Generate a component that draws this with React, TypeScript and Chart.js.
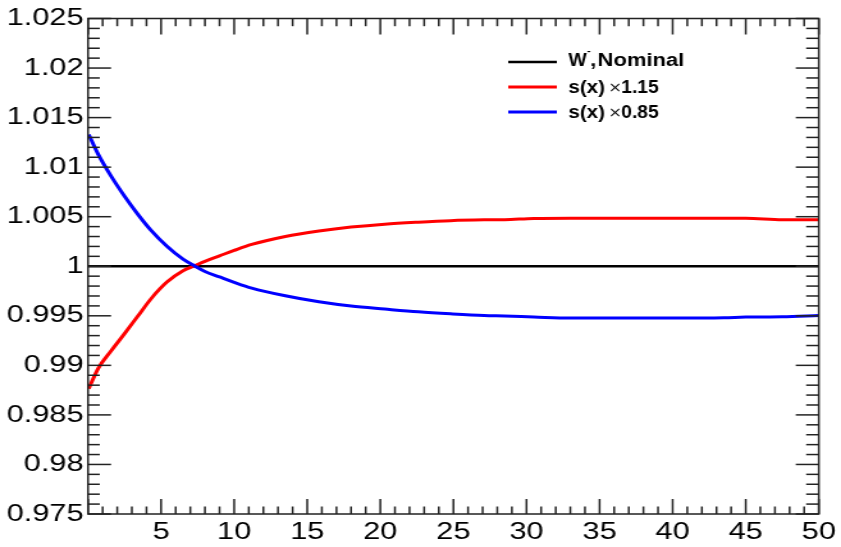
import React, { useEffect, useRef } from "react";
import { Chart, registerables } from "chart.js";

Chart.register(...registerables);

// ---- data ----
const xValues = [0.05, 0.7, 1.6, 2.5, 3.4, 4.3, 5.4, 6.5, 7.3, 8, 9, 10, 11.2, 13.5, 15.8, 18, 20.3, 22.6, 24.8, 27.1, 28.5, 30.5, 33, 36, 40, 43.5, 45, 47.5, 50];
const upValues = [0.98765, 0.9897, 0.9915, 0.9932, 0.99495, 0.9967, 0.9984, 0.99955, 1.00005, 1.0005, 1.00105, 1.0016, 1.0022, 1.003, 1.00355, 1.00395, 1.00425, 1.00445, 1.0046, 1.00468, 1.0047, 1.00482, 1.00485, 1.00485, 1.00485, 1.00485, 1.00485, 1.0047, 1.0047];
const downValues = [1.0133, 1.01129, 1.00904, 1.00706, 1.00526, 1.00364, 1.00201, 1.00071, 1.00002, 0.99947, 0.99892, 0.99838, 0.9978, 0.99702, 0.99641, 0.99598, 0.99568, 0.9954, 0.9952, 0.99503, 0.99498, 0.99488, 0.99477, 0.99477, 0.99477, 0.9948, 0.99487, 0.9949, 0.99502];
const nominalX = [0, 50];
const nominalY = [1, 1];

const xTicks = [0, 5, 10, 15, 20, 25, 30, 35, 40, 45, 50];
const yTicks = [0.975, 0.98, 0.985, 0.99, 0.995, 1, 1.005, 1.01, 1.015, 1.02, 1.025];

const legendLabels = ["Nominal", "s(x)", "s(x)"];
const legendFactors = ["", "1.15", "0.85"];
const seriesColors = ["#000000", "#ff0000", "#0000ff"];

// horizontal stretch to mimic the reference rendering
const STRETCH = 1.28;
const OUT_W = 841;
const OUT_H = 547;
const IN_W = Math.round(OUT_W / STRETCH);

const toPts = (xs: number[], ys: number[]) => xs.map((x, i) => ({ x, y: ys[i] }));

const rootStyle = {
  id: "rootStyle",
  afterDraw(chart: any) {
    const { ctx, chartArea: a, scales } = chart;
    const xs = scales.x;
    const ys = scales.y;
    ctx.save();
    ctx.strokeStyle = "#222";
    ctx.lineWidth = 1.5;
    const line = (x1: number, y1: number, x2: number, y2: number) => {
      ctx.beginPath();
      ctx.moveTo(x1, y1);
      ctx.lineTo(x2, y2);
      ctx.stroke();
    };
    ctx.strokeRect(a.left, a.top, a.right - a.left, a.bottom - a.top);
    const xMin = xTicks[0];
    const xMax = xTicks[xTicks.length - 1];
    for (let v = xMin; v <= xMax; v += 1) {
      const px = xs.getPixelForValue(v);
      const major = v % 5 === 0;
      line(px, a.bottom, px, a.bottom - (major ? 15 : 7.5));
      line(px, a.top, px, a.top + (major ? 16 : 7.7));
    }
    const n = Math.round((yTicks[yTicks.length - 1] - yTicks[0]) / 0.001);
    for (let i = 0; i <= n; i++) {
      const v = yTicks[0] + i * 0.001;
      const py = ys.getPixelForValue(v);
      const major = i % 5 === 0;
      line(a.left, py, a.left + (major ? 18 : 9.2), py);
      line(a.right, py, a.right - (major ? 18 : 9.9), py);
    }
    ctx.restore();

    // legend
    ctx.save();
    const rows = [62, 87, 112];
    const lx1 = 397;
    const lx2 = 435;
    const tx = 444;
    const bold = 'bold 17.5px "Liberation Sans", Arial, sans-serif';
    const text = (t: string, x: number, y: number, font: string, sx: number) => {
      ctx.save();
      ctx.font = font;
      ctx.translate(x, y);
      ctx.scale(sx, 1);
      ctx.fillText(t, 0, 0);
      ctx.restore();
    };
    ctx.textBaseline = "alphabetic";
    ctx.fillStyle = "#000";
    rows.forEach((ry, i) => {
      ctx.strokeStyle = seriesColors[i];
      ctx.lineWidth = i === 0 ? 2.5 : 3;
      line(lx1, ry, lx2, ry);
      if (i === 0) {
        const base = ry + 3.8;
        text("W", tx, base, bold, 0.87);
        text("-", 458.6, base - 12, 'bold 9px "Liberation Sans", Arial, sans-serif', 1.0);
        text(",", 461, base, bold, 1.0);
        text(legendLabels[0], 466.8, base, bold, 0.98);
      } else {
        const base = ry + 6.2;
        text(legendLabels[i], tx, base, bold, 0.92);
        text("\u00d7", 475.2, base - 1, '14px "DejaVu Sans", sans-serif', 0.9);
        text(legendFactors[i], 485.3, base, bold, 0.86);
      }
    });
    ctx.restore();
  },
};

export default function App() {
  const canvasRef = useRef<HTMLCanvasElement>(null);
  useEffect(() => {
    document.body.style.margin = "0";
    const canvas = canvasRef.current!;
    const chart = new Chart(canvas, {
      type: "line",
      data: {
        datasets: [
          {
            label: "W-, Nominal",
            data: toPts(nominalX, nominalY),
            borderColor: seriesColors[0],
            borderWidth: 2.5,
            pointRadius: 0,
            order: 3,
          },
          {
            label: "s(x) x 1.15",
            data: toPts(xValues, upValues),
            borderColor: seriesColors[1],
            borderWidth: 3,
            pointRadius: 0,
            cubicInterpolationMode: "monotone",
            order: 2,
          },
          {
            label: "s(x) x 0.85",
            data: toPts(xValues, downValues),
            borderColor: seriesColors[2],
            borderWidth: 3,
            pointRadius: 0,
            cubicInterpolationMode: "monotone",
            order: 1,
          },
        ],
      },
      options: {
        animation: false,
        responsive: false,
        devicePixelRatio: 1,
        layout: { padding: { left: 0, right: IN_W - 824 / STRETCH, top: 18.5, bottom: 0 } },
        plugins: { legend: { display: false }, tooltip: { enabled: false } },
        scales: {
          x: {
            type: "linear",
            min: xTicks[0],
            max: xTicks[xTicks.length - 1],
            grid: { display: false, drawTicks: false },
            border: { display: false },
            afterBuildTicks: (s: any) => {
              s.ticks = xTicks.map((v) => ({ value: v }));
            },
            afterFit: (s: any) => {
              s.height = OUT_H - 514;
            },
            ticks: {
              autoSkip: false,
              maxRotation: 0,
              padding: 4,
              color: "#000",
              font: { family: '"Liberation Sans", Arial, sans-serif', size: 24 },
              callback: (v: any) => (v === 0 ? "" : String(v)),
            },
          },
          y: {
            type: "linear",
            min: yTicks[0],
            max: yTicks[yTicks.length - 1],
            grid: { display: false, drawTicks: false },
            border: { display: false },
            afterBuildTicks: (s: any) => {
              s.ticks = yTicks.map((v) => ({ value: v }));
            },
            afterFit: (s: any) => {
              s.width = 88 / STRETCH;
            },
            ticks: {
              autoSkip: false,
              padding: 3.5,
              color: "#000",
              font: { family: '"Liberation Sans", Arial, sans-serif', size: 24 },
              callback: (v: any) => String(Number(Number(v).toFixed(3))),
            },
          },
        },
      },
      plugins: [rootStyle],
    });
    return () => chart.destroy();
  }, []);
  return (
    <div style={{ position: "fixed", left: 0, top: 0, width: OUT_W, height: OUT_H, background: "#fff" }}>
      <canvas
        ref={canvasRef}
        width={IN_W}
        height={OUT_H}
        style={{ width: OUT_W + "px", height: OUT_H + "px", display: "block" }}
      />
    </div>
  );
}
